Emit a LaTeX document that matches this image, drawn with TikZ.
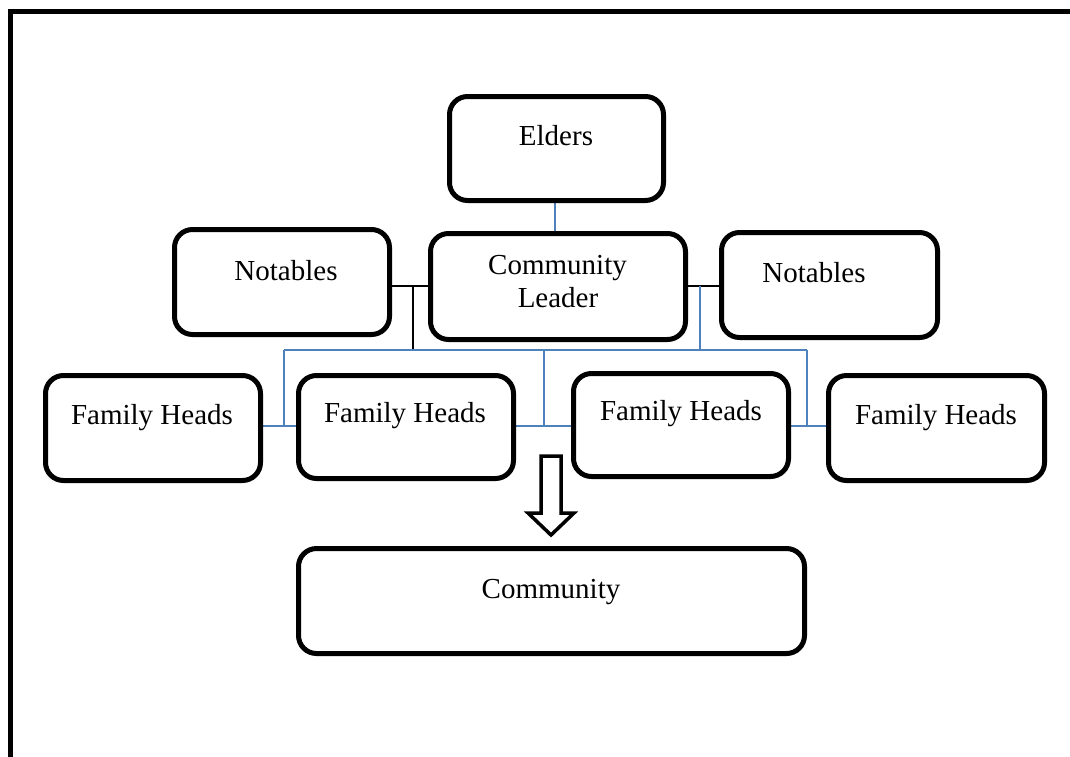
\documentclass[tikz,border=0pt]{standalone}
\usepackage{fontspec}
\setmainfont{Liberation Serif}
\usetikzlibrary{backgrounds}
\definecolor{linkblue}{RGB}{79,129,189}
\tikzset{
  box/.style={draw, line width=5pt, rounded corners=18pt, inner sep=0pt},
  lbl/.style={inner sep=0pt, anchor=base, font=\fontsize{29}{33}\selectfont, align=center},
  blueline/.style={draw=linkblue, line width=2pt},
  blackline/.style={draw=black, line width=2pt},
  frame/.style={draw, line width=5pt},
  hollowarrow/.style={draw, line width=3.5pt, miter limit=10}
}
\begin{document}
\begin{tikzpicture}[x=1pt,y=-1pt]
\useasboundingbox (0,0) rectangle (1070,756);
\clip (0,0) rectangle (1070,756);
% outer frame (cut at right and bottom)
\draw[frame] (10.5,800) -- (10.5,11) -- (1100,11);
% boxes
\node[box, minimum width=214pt, minimum height=104pt] (elders) at (556.5,148.5) {};
\node[box, minimum width=215pt, minimum height=105pt] (notL) at (282,282) {};
\node[box, minimum width=255pt, minimum height=106pt] (cl) at (558,286.5) {};
\node[box, minimum width=216pt, minimum height=105pt] (notR) at (829.5,285) {};
\node[box, minimum width=215pt, minimum height=105pt] (fh1) at (153,428) {};
\node[box, minimum width=215pt, minimum height=103pt] (fh2) at (406,427) {};
\node[box, minimum width=215pt, minimum height=103pt] (fh3) at (681,425) {};
\node[box, minimum width=216pt, minimum height=105pt] (fh4) at (936.5,428) {};
\node[box, minimum width=506pt, minimum height=105pt] (comm) at (551.5,601) {};
% labels
\node[lbl] (tElders) at (556,145) {Elders};
\node[lbl] (tNotL) at (286,280) {Notables};
\node[lbl] (tCL1) at (557.5,274) {Community};
\node[lbl] (tCL2) at (558,307) {Leader};
\node[lbl] (tNotR) at (814,282) {Notables};
\node[lbl] (tFH1) at (152,424) {Family Heads};
\node[lbl] (tFH2) at (405,422) {Family Heads};
\node[lbl] (tFH3) at (681,420) {Family Heads};
\node[lbl] (tFH4) at (936,424) {Family Heads};
\node[lbl] (tComm) at (551,598) {Community};
% junction coordinates
\coordinate (jL) at (413,286);
\coordinate (jR) at (700,286);
\coordinate (b1) at (284,350);
\coordinate (b2) at (544,350);
\coordinate (b3) at (807,350);
\coordinate (h1) at (284,426);
\coordinate (h2) at (544,426);
\coordinate (h3) at (807,426);
\begin{scope}[on background layer]
\draw[blueline] (elders.south -| 555,0) -- (cl.north -| 555,0);
\draw[blackline] (notL.east |- jL) -- (cl.west |- jL);
\draw[blackline] (cl.east |- jR) -- (notR.west |- jR);
\draw[blackline] (jL) -- (jL |- b1);
\draw[blueline] (jR) -- (jR |- b1);
\draw[blueline] (b1) -- (b3);
\draw[blueline] (b1) -- (h1);
\draw[blueline] (b2) -- (h2);
\draw[blueline] (b3) -- (h3);
\draw[blueline] (fh1.east |- h1) -- (fh2.west |- h1);
\draw[blueline] (fh2.east |- h2) -- (fh3.west |- h2);
\draw[blueline] (fh3.east |- h3) -- (fh4.west |- h3);
\end{scope}
% hollow down arrow
\draw[hollowarrow] (541,456) -- (561,456) -- (561,513) -- (574,513) -- (551,535) -- (528,513) -- (541,513) -- cycle;
\end{tikzpicture}
\end{document}
